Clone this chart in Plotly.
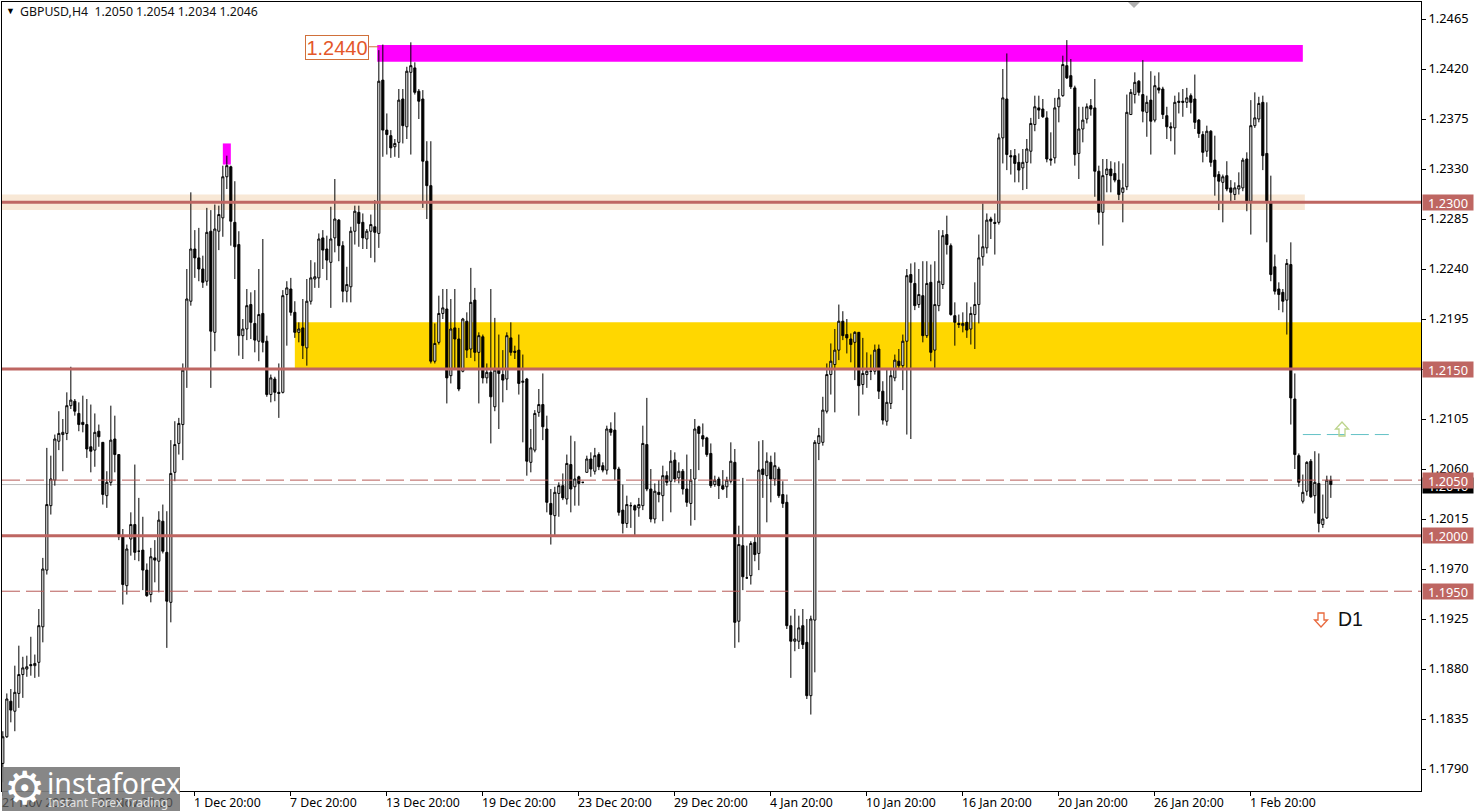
import plotly.graph_objects as go

W, H = 1476, 812
L, R, T, B = 2, 1421, 2, 791

opens = [
1.1795,1.1819,1.1851,1.1842,1.1858,1.1875,1.1880,1.1884,1.1883,1.1886,
1.1918,1.1969,1.2027,1.2050,1.2085,1.2091,1.2092,1.2117,1.2121,1.2110,
1.2102,1.2100,1.2080,1.2077,1.2094,1.2084,1.2036,1.2048,1.2087,1.2073,
1.1999,1.1955,1.1997,1.2010,1.1986,1.1987,1.1969,1.1947,1.1980,1.1977,
1.2013,1.1985,1.1940,1.2057,1.2083,1.2100,1.2150,1.2211,1.2258,1.2250,
1.2240,1.2229,1.2274,1.2183,1.2274,1.2286,1.2323,1.2332,1.2282,1.2262,
1.2180,1.2186,1.2208,1.2191,1.2175,1.2200,1.2175,1.2127,1.2141,1.2129,
1.2129,1.2217,1.2222,1.2201,1.2183,1.2187,1.2169,1.2211,1.2231,1.2232,
1.2268,1.2258,1.2246,1.2268,1.2284,1.2261,1.2220,1.2224,1.2274,1.2291,
1.2282,1.2267,1.2274,1.2278,1.2272,1.2410,1.2365,1.2360,1.2350,1.2354,
1.2393,1.2368,1.2417,1.2421,1.2400,1.2393,1.2337,1.2315,1.2157,1.2174,
1.2200,1.2204,1.2144,1.2187,1.2177,1.2148,1.2193,1.2168,1.2212,1.2165,
1.2179,1.2142,1.2147,1.2116,1.2150,1.2145,1.2141,1.2178,1.2166,1.2167,
1.2138,1.2141,1.2066,1.2077,1.2111,1.2118,1.2096,1.2029,1.2018,1.2038,
1.2045,1.2033,1.2064,1.2044,1.2053,1.2048,1.2057,1.2069,1.2058,1.2073,
1.2063,1.2059,1.2096,1.2095,1.2060,1.2023,1.2011,1.2027,1.2027,1.2025,
1.2027,1.2082,1.2042,1.2015,1.2039,1.2036,1.2054,1.2049,1.2068,1.2052,
1.2058,1.2042,1.2029,1.2051,1.2098,1.2090,1.2088,1.2074,1.2046,1.2051,
1.2045,1.2044,1.2049,1.2066,1.1923,1.1991,1.1962,1.1964,1.1994,1.1984,
1.2060,1.2054,1.2066,1.2051,1.2060,1.2037,1.2030,1.1919,1.1905,1.1905,
1.1919,1.1904,1.1856,1.1924,1.2083,1.2084,1.2112,1.2145,1.2154,1.2167,
1.2193,1.2181,1.2177,1.2174,1.2183,1.2136,1.2145,1.2148,1.2148,1.2168,
1.2130,1.2103,1.2119,1.2142,1.2157,1.2153,1.2175,1.2235,1.2227,1.2208,
1.2216,1.2180,1.2228,1.2167,1.2207,1.2226,1.2271,1.2261,1.2198,1.2191,
1.2189,1.2192,1.2186,1.2199,1.2208,1.2251,1.2259,1.2285,1.2282,1.2282,
1.2358,1.2393,1.2342,1.2342,1.2336,1.2331,1.2336,1.2346,1.2370,1.2385,
1.2384,1.2376,1.2339,1.2340,1.2386,1.2396,1.2423,1.2414,1.2403,1.2344,
1.2366,1.2375,1.2387,1.2385,1.2328,1.2291,1.2325,1.2330,1.2326,1.2320,
1.2309,1.2314,1.2379,1.2397,1.2409,1.2397,1.2381,1.2392,1.2374,1.2403,
1.2402,1.2378,1.2368,1.2367,1.2391,1.2391,1.2390,1.2396,1.2393,1.2374,
1.2361,1.2346,1.2364,1.2338,1.2325,1.2318,1.2324,1.2313,1.2307,1.2312,
1.2313,1.2339,1.2301,1.2369,1.2375,1.2390,1.2344,1.2300,1.2242,1.2222,
1.2219,1.2212,1.2244,1.2123,1.2072,1.2031,1.2040,1.2067,1.2036,1.2047,
1.2010,1.2016,1.2050]

highs = [
1.1824,1.1858,1.1862,1.1883,1.1901,1.1891,1.1892,1.1909,1.1893,1.1934,
1.1980,1.2079,1.2072,1.2091,1.2112,1.2105,1.2129,1.2152,1.2123,1.2120,
1.2126,1.2123,1.2118,1.2110,1.2100,1.2084,1.2058,1.2117,1.2108,1.2073,
1.2006,1.1992,1.2021,1.2064,1.2034,1.2017,1.1975,1.1989,1.1996,1.2022,
1.2028,1.2022,1.2086,1.2103,1.2106,1.2155,1.2240,1.2309,1.2275,1.2277,
1.2252,1.2295,1.2293,1.2298,1.2297,1.2333,1.2342,1.2333,1.2319,1.2274,
1.2195,1.2222,1.2219,1.2221,1.2240,1.2267,1.2180,1.2145,1.2143,1.2155,
1.2221,1.2229,1.2232,1.2211,1.2192,1.2213,1.2231,1.2248,1.2246,1.2272,
1.2275,1.2270,1.2296,1.2321,1.2285,1.2265,1.2242,1.2278,1.2297,1.2297,
1.2290,1.2276,1.2289,1.2302,1.2437,1.2442,1.2380,1.2365,1.2357,1.2402,
1.2402,1.2422,1.2444,1.2426,1.2402,1.2401,1.2355,1.2355,1.2191,1.2216,
1.2222,1.2222,1.2213,1.2222,1.2187,1.2196,1.2201,1.2241,1.2223,1.2183,
1.2181,1.2155,1.2222,1.2196,1.2181,1.2167,1.2183,1.2192,1.2171,1.2181,
1.2163,1.2142,1.2096,1.2113,1.2132,1.2146,1.2108,1.2042,1.2044,1.2048,
1.2056,1.2073,1.2090,1.2085,1.2054,1.2048,1.2072,1.2075,1.2079,1.2075,
1.2066,1.2099,1.2102,1.2111,1.2062,1.2046,1.2036,1.2030,1.2028,1.2034,
1.2099,1.2124,1.2060,1.2047,1.2050,1.2063,1.2058,1.2077,1.2075,1.2066,
1.2060,1.2073,1.2060,1.2105,1.2099,1.2101,1.2089,1.2083,1.2054,1.2053,
1.2059,1.2053,1.2084,1.2078,1.2009,1.2052,1.1991,1.1995,1.2000,1.2085,
1.2086,1.2075,1.2072,1.2075,1.2062,1.2049,1.2037,1.1928,1.1934,1.1928,
1.1934,1.1925,1.1928,1.2086,1.2097,1.2125,1.2155,1.2173,1.2186,1.2208,
1.2202,1.2195,1.2182,1.2184,1.2183,1.2178,1.2165,1.2163,1.2172,1.2172,
1.2139,1.2150,1.2149,1.2163,1.2168,1.2181,1.2240,1.2245,1.2246,1.2240,
1.2247,1.2247,1.2244,1.2247,1.2275,1.2275,1.2288,1.2263,1.2210,1.2199,
1.2201,1.2210,1.2206,1.2228,1.2271,1.2299,1.2290,1.2287,1.2290,1.2362,
1.2420,1.2434,1.2347,1.2348,1.2344,1.2348,1.2357,1.2376,1.2396,1.2396,
1.2393,1.2382,1.2363,1.2394,1.2402,1.2432,1.2446,1.2429,1.2405,1.2386,
1.2386,1.2389,1.2393,1.2411,1.2333,1.2339,1.2339,1.2337,1.2336,1.2337,
1.2335,1.2397,1.2402,1.2417,1.2410,1.2428,1.2396,1.2418,1.2414,1.2417,
1.2404,1.2386,1.2372,1.2396,1.2399,1.2402,1.2403,1.2398,1.2415,1.2375,
1.2364,1.2369,1.2365,1.2360,1.2328,1.2325,1.2337,1.2320,1.2318,1.2327,
1.2340,1.2345,1.2392,1.2399,1.2395,1.2396,1.2390,1.2324,1.2253,1.2228,
1.2222,1.2249,1.2264,1.2146,1.2074,1.2055,1.2067,1.2069,1.2076,1.2074,
1.2037,1.2054,1.2054]

lows = [
1.1778,1.1818,1.1832,1.1824,1.1845,1.1854,1.1873,1.1874,1.1872,1.1873,
1.1904,1.1965,1.2019,1.2045,1.2077,1.2058,1.2086,1.2114,1.2108,1.2094,
1.2093,1.2070,1.2057,1.2062,1.2080,1.2028,1.2025,1.2045,1.2057,1.1996,
1.1938,1.1947,1.1982,1.1978,1.1977,1.1951,1.1945,1.1940,1.1958,1.1949,
1.1984,1.1899,1.1922,1.2049,1.2073,1.2068,1.2133,1.2207,1.2232,1.2229,
1.2223,1.2225,1.2133,1.2166,1.2257,1.2269,1.2312,1.2261,1.2231,1.2162,
1.2159,1.2176,1.2177,1.2165,1.2157,1.2165,1.2125,1.2120,1.2121,1.2106,
1.2128,1.2171,1.2198,1.2178,1.2174,1.2159,1.2153,1.2208,1.2223,1.2223,
1.2240,1.2230,1.2205,1.2255,1.2247,1.2210,1.2210,1.2210,1.2262,1.2260,
1.2258,1.2258,1.2250,1.2246,1.2259,1.2341,1.2343,1.2340,1.2341,1.2340,
1.2353,1.2357,1.2343,1.2397,1.2375,1.2295,1.2285,1.2155,1.2155,1.2172,
1.2195,1.2119,1.2137,1.2150,1.2130,1.2147,1.2160,1.2160,1.2157,1.2119,
1.2137,1.2137,1.2083,1.2112,1.2096,1.2120,1.2131,1.2162,1.2159,1.2127,
1.2084,1.2054,1.2057,1.2075,1.2107,1.2086,1.2021,1.1992,1.2000,1.2017,
1.2032,1.2028,1.2021,1.2027,1.2027,1.2047,1.2057,1.2053,1.2055,1.2059,
1.2057,1.2055,1.2090,1.2050,1.2018,1.2002,1.2007,1.2007,1.2000,1.2017,
1.2023,1.2040,1.2012,1.2011,1.2030,1.2013,1.2045,1.2021,1.2048,1.2047,
1.2037,1.2026,1.2009,1.2014,1.2059,1.2080,1.2071,1.2043,1.2044,1.2033,
1.2041,1.2034,1.2047,1.1899,1.1904,1.1951,1.1961,1.1956,1.1977,1.1969,
1.2034,1.2012,1.2030,1.2045,1.2034,1.2025,1.1916,1.1872,1.1896,1.1898,
1.1898,1.1853,1.1839,1.1877,1.2068,1.2081,1.2110,1.2127,1.2111,1.2158,
1.2176,1.2164,1.2156,1.2140,1.2108,1.2127,1.2133,1.2140,1.2145,1.2123,
1.2100,1.2099,1.2114,1.2139,1.2150,1.2131,1.2091,1.2087,1.2203,1.2205,
1.2174,1.2178,1.2157,1.2151,1.2202,1.2222,1.2253,1.2198,1.2171,1.2187,
1.2183,1.2178,1.2172,1.2168,1.2191,1.2243,1.2254,1.2267,1.2253,1.2280,
1.2335,1.2329,1.2325,1.2318,1.2318,1.2311,1.2312,1.2335,1.2364,1.2375,
1.2376,1.2336,1.2333,1.2335,1.2372,1.2395,1.2411,1.2402,1.2333,1.2321,
1.2354,1.2371,1.2378,1.2305,1.2280,1.2261,1.2309,1.2309,1.2318,1.2302,
1.2282,1.2311,1.2379,1.2389,1.2396,1.2372,1.2359,1.2343,1.2372,1.2398,
1.2375,1.2357,1.2355,1.2343,1.2380,1.2377,1.2385,1.2380,1.2366,1.2358,
1.2336,1.2341,1.2332,1.2306,1.2293,1.2282,1.2310,1.2300,1.2302,1.2307,
1.2310,1.2292,1.2271,1.2367,1.2372,1.2329,1.2264,1.2229,1.2217,1.2203,
1.2201,1.2181,1.2100,1.2060,1.2044,1.2029,1.2036,1.2034,1.2020,1.2003,
1.2007,1.2015,1.2034]

closes = [
1.1819,1.1853,1.1843,1.1859,1.1875,1.1881,1.1882,1.1883,1.1885,1.1919,
1.1970,1.2028,1.2051,1.2087,1.2092,1.2093,1.2117,1.2122,1.2112,1.2100,
1.2100,1.2078,1.2076,1.2093,1.2089,1.2037,1.2048,1.2086,1.2073,1.1999,
1.1956,1.1988,1.2010,1.1985,1.1986,1.1969,1.1946,1.1981,1.1978,1.2014,
1.1986,1.1941,1.2056,1.2082,1.2101,1.2149,1.2213,1.2258,1.2250,1.2240,
1.2228,1.2273,1.2184,1.2276,1.2289,1.2323,1.2333,1.2283,1.2260,1.2180,
1.2186,1.2207,1.2192,1.2176,1.2199,1.2174,1.2127,1.2142,1.2129,1.2128,
1.2216,1.2223,1.2201,1.2183,1.2186,1.2171,1.2211,1.2232,1.2233,1.2267,
1.2257,1.2248,1.2267,1.2285,1.2261,1.2220,1.2226,1.2274,1.2292,1.2281,
1.2268,1.2274,1.2280,1.2273,1.2409,1.2365,1.2361,1.2349,1.2353,1.2392,
1.2369,1.2418,1.2423,1.2399,1.2391,1.2337,1.2315,1.2157,1.2173,1.2200,
1.2205,1.2142,1.2186,1.2177,1.2132,1.2195,1.2167,1.2210,1.2165,1.2180,
1.2142,1.2147,1.2125,1.2149,1.2146,1.2140,1.2180,1.2165,1.2165,1.2137,
1.2139,1.2067,1.2079,1.2110,1.2118,1.2098,1.2030,1.2019,1.2039,1.2045,
1.2034,1.2065,1.2042,1.2051,1.2047,1.2048,1.2069,1.2060,1.2072,1.2062,
1.2059,1.2096,1.2093,1.2060,1.2021,1.2011,1.2028,1.2027,1.2023,1.2028,
1.2083,1.2042,1.2015,1.2040,1.2037,1.2054,1.2048,1.2067,1.2051,1.2058,
1.2042,1.2030,1.2050,1.2096,1.2092,1.2087,1.2073,1.2045,1.2050,1.2045,
1.2042,1.2050,1.2067,1.1922,1.1992,1.1963,1.1962,1.1993,1.1983,1.2059,
1.2055,1.2067,1.2051,1.2063,1.2036,1.2029,1.1919,1.1905,1.1907,1.1917,
1.1902,1.1856,1.1925,1.2084,1.2090,1.2113,1.2145,1.2157,1.2167,1.2193,
1.2180,1.2178,1.2172,1.2183,1.2135,1.2146,1.2148,1.2148,1.2167,1.2130,
1.2104,1.2120,1.2144,1.2158,1.2153,1.2175,1.2234,1.2228,1.2207,1.2217,
1.2180,1.2227,1.2165,1.2208,1.2229,1.2270,1.2262,1.2199,1.2192,1.2190,
1.2191,1.2185,1.2200,1.2208,1.2250,1.2260,1.2284,1.2283,1.2281,1.2358,
1.2394,1.2343,1.2341,1.2335,1.2329,1.2336,1.2348,1.2371,1.2386,1.2383,
1.2377,1.2339,1.2338,1.2385,1.2394,1.2424,1.2412,1.2404,1.2343,1.2366,
1.2374,1.2386,1.2384,1.2328,1.2291,1.2324,1.2330,1.2324,1.2320,1.2307,
1.2313,1.2381,1.2399,1.2408,1.2399,1.2382,1.2390,1.2373,1.2405,1.2401,
1.2379,1.2368,1.2367,1.2390,1.2390,1.2390,1.2394,1.2390,1.2372,1.2362,
1.2345,1.2364,1.2336,1.2323,1.2319,1.2323,1.2312,1.2309,1.2313,1.2315,
1.2338,1.2300,1.2369,1.2376,1.2389,1.2342,1.2300,1.2235,1.2220,1.2217,
1.2211,1.2245,1.2124,1.2073,1.2048,1.2039,1.2066,1.2035,1.2048,1.2011,
1.2015,1.2050,1.2046]

y_ticks = [1.2465,1.2420,1.2375,1.2330,1.2285,1.2240,1.2195,1.2150,1.2105,1.2060,1.2015,1.1970,1.1925,1.1880,1.1835,1.1790]
x_ticks = [0,24,48,72,96,120,144,168,192,216,240,264,288,312]
x_labels = ["21 Nov 2022","25 Nov 20:00","1 Dec 20:00","7 Dec 20:00","13 Dec 20:00","19 Dec 20:00","23 Dec 20:00",
            "29 Dec 20:00","4 Jan 20:00","10 Jan 20:00","16 Jan 20:00","20 Jan 20:00","26 Jan 20:00","1 Feb 20:00"]
solid_levels = [1.2300,1.2150,1.2000]
dashed_levels = [1.2050,1.1950]
last_price = 1.2046

assert len(opens)==len(highs)==len(lows)==len(closes)==333
idx = list(range(len(opens)))

XMIN, XMAX = (L-2.83)/4, (R-2.83)/4
YMIN, YMAX = 1.17702, 1.24803
def xp(px): return (px-L)/(R-L)
def yp(px): return (B-px)/(B-T)

RED="#BE6662"
fig = go.Figure(go.Candlestick(
    x=idx, open=opens, high=highs, low=lows, close=closes,
    increasing=dict(line=dict(color="#000",width=1),fillcolor="#fff"),
    decreasing=dict(line=dict(color="#000",width=1),fillcolor="#000"),
    whiskerwidth=0, hoverinfo="skip"))

shapes=[]
def rect(x0,x1,y0,y1,color):
    shapes.append(dict(type="rect",xref="x",yref="y",x0=x0,x1=x1,y0=y0,y1=y1,fillcolor=color,line_width=0,layer="below"))
rect(-0.5,325.5,1.2293,1.2307,"#F8E8D6")
rect(73,XMAX,1.2150,1.2192,"#FFD700")
rect(93.6,325,1.24265,1.24415,"#FF00FF")
rect(55,57,1.2334,1.2353,"#FF00FF")
shapes.append(dict(type="line",xref="paper",yref="y",x0=0,x1=1,y0=last_price,y1=last_price,line=dict(color="#BDBDBD",width=1),layer="below"))
for v in dashed_levels:
    shapes.append(dict(type="line",xref="paper",yref="y",x0=0,x1=1,y0=v,y1=v,line=dict(color="#B85A58",width=1,dash="18px,6px"),layer="above"))
for v in solid_levels:
    shapes.append(dict(type="line",xref="paper",yref="y",x0=0,x1=1,y0=v,y1=v,line=dict(color=RED,width=3),layer="above"))
shapes.append(dict(type="line",xref="x",yref="y",x0=325,x1=346.5,y0=1.2091,y1=1.2091,line=dict(color="#63C2C6",width=1,dash="18px,6px")))
shapes.append(dict(type="line",xref="x",yref="y",x0=91.5,x1=94,y0=1.2440,y1=1.2440,line=dict(color="#D0703A",width=1)))
shapes.append(dict(type="rect",xref="paper",yref="paper",x0=xp(2),x1=xp(180),y0=yp(767),y1=yp(811),
                   fillcolor="rgba(125,125,125,0.92)",line_width=0,layer="above"))
shapes.append(dict(type="path",xref="paper",yref="paper",
    path=f"M {xp(1128)} {yp(2)} L {xp(1140)} {yp(2)} L {xp(1134)} {yp(8)} Z",fillcolor="#B0B0B0",line_width=0))

def arrow(cx,top,bottom,up,color):
    # hollow block arrow drawn in page position
    hw, sw = 6.5, 3
    head = top+7 if up else bottom-7
    if up:
        pts=[(cx,top),(cx+hw,head),(cx+sw,head),(cx+sw,bottom),(cx-sw,bottom),(cx-sw,head),(cx-hw,head)]
    else:
        pts=[(cx,bottom),(cx+hw,head),(cx+sw,head),(cx+sw,top),(cx-sw,top),(cx-sw,head),(cx-hw,head)]
    p="M "+" L ".join(f"{xp(a)} {yp(b)}" for a,b in pts)+" Z"
    shapes.append(dict(type="path",xref="paper",yref="paper",path=p,fillcolor="rgba(255,255,255,0)",line=dict(color=color,width=1.3),layer="above"))
arrow(1342,422,436,True,"#BCD48C")
arrow(1321,613,627,False,"#E8683C")

anns=[]
def text(px,py,s,size,color,anchor="left",font="Noto Sans",**kw):
    anns.append(dict(xref="paper",yref="paper",x=xp(px),y=yp(py),text=s,showarrow=False,xanchor=anchor,yanchor="middle",
                     font=dict(family=font,size=size,color=color),**kw))

# date axis labels start at their tick
for t,s in zip(x_ticks,x_labels):
    anns.append(dict(xref="x",yref="paper",x=t,y=yp(802),text=s,showarrow=False,xanchor="left",yanchor="middle",xshift=-3,
                     font=dict(family="Noto Sans",size=12.3,color="#4a4a4a" if t<48 else "#000")))

def tag(v,s,bg):
    anns.append(dict(xref="paper",yref="y",x=xp(1422),y=v,text=s,showarrow=False,xanchor="left",yanchor="middle",
                     bgcolor=bg,width=50,height=15,align="center",borderpad=0,
                     font=dict(family="Noto Sans",size=12.8,color="#fff")))
tag(last_price-0.0001,"1.2046","#000")
for v,s in zip([1.2300,1.2150,1.2050,1.2000,1.1950],["1.2300","1.2150","1.2050","1.2000","1.1950"]):
    tag(v,s,RED)

text(4,11,"▼",9,"#000")
text(18,11.5,"GBPUSD,H4  1.2050 1.2054 1.2034 1.2046",12.3,"#111")
anns.append(dict(xref="paper",yref="paper",x=xp(337),y=yp(47.5),text="1.2440",showarrow=False,xanchor="center",yanchor="middle",
                 bgcolor="#fff",bordercolor="#D0703A",borderwidth=1,width=62,height=23,borderpad=0,
                 font=dict(family="Liberation Sans",size=20,color="#E4572A")))
text(1336,619,"D1",19.5,"#111","left","Liberation Sans")
text(24,788,"⚙",46,"#fff","center","DejaVu Sans")
text(45,783,"instaforex",28.5,"#fff","left","Noto Sans")
text(46,802,"Instant Forex Trading",12,"#E2E2E2","left","Noto Sans")

fig.update_layout(
    width=W,height=H,autosize=False,
    margin=dict(l=L,r=W-R,t=T,b=H-B,pad=0),
    paper_bgcolor="#fff",plot_bgcolor="#fff",showlegend=False,
    boxgap=0.25,
    shapes=shapes,annotations=anns,
    font=dict(family="Noto Sans",size=12,color="#000"),
    xaxis=dict(range=[XMIN,XMAX],rangeslider_visible=False,tickvals=x_ticks,showticklabels=False,ticks="outside",ticklen=4,tickwidth=1,tickcolor="#000",
               showgrid=False,zeroline=False,showline=True,linecolor="#000",linewidth=1,mirror=True),
    yaxis=dict(range=[YMIN,YMAX],side="right",tickvals=y_ticks,ticktext=[f"{v:.4f}" for v in y_ticks],ticks="outside",ticklen=4,tickwidth=1,tickcolor="#000",
               tickfont=dict(family="Noto Sans",size=12.8,color="#000"),
               showgrid=False,zeroline=False,showline=True,linecolor="#000",linewidth=1,mirror=True),
)
fig.write_html("out.html", config={"displayModeBar":False},
               post_script="document.body.style.margin='0';document.documentElement.style.overflow='hidden';")
